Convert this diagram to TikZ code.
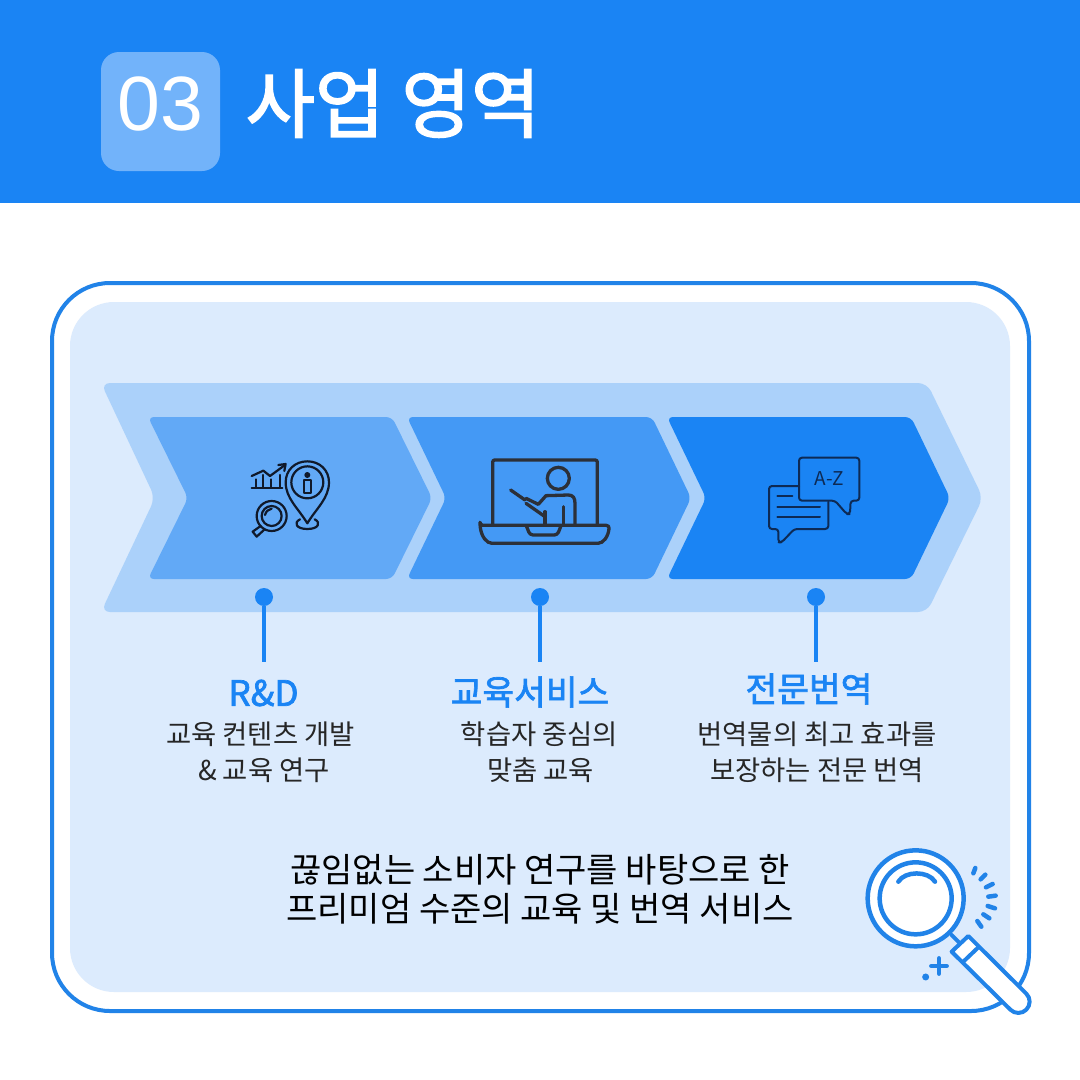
\documentclass[tikz,border=0pt]{standalone}
\usepackage{fontspec}
\setmainfont{Noto Sans CJK KR}
\newfontfamily\medfont[FakeBold=2]{Noto Sans CJK KR}
\newfontfamily\numfont{Liberation Sans}
\usetikzlibrary{calc}
\definecolor{headblue}{HTML}{1A84F4}
\definecolor{badgeblue}{HTML}{72B3FA}
\definecolor{lineblue}{HTML}{2183E8}
\definecolor{paleblue}{HTML}{DCEBFD}
\definecolor{bandblue}{HTML}{ABD1FA}
\definecolor{chevone}{HTML}{62A9F6}
\definecolor{chevtwo}{HTML}{4499F5}
\definecolor{iconone}{HTML}{10192A}
\definecolor{icontwo}{HTML}{2C3038}
\definecolor{iconthree}{HTML}{0D2A55}
\tikzset{
  chev/.style={rounded corners=6pt},
  dotnode/.style={circle,fill=headblue,minimum size=18pt,inner sep=0pt},
  stem/.style={draw=headblue,line width=3.5pt},
  headtext/.style={text=headblue,font=\fontsize{34.5}{34.5}\medfont,inner sep=0pt},
  bodytext/.style={text=black!85,font=\fontsize{27.4}{27.4}\selectfont,inner sep=0pt},
  closetext/.style={text=black,font=\fontsize{34}{34}\selectfont,inner sep=0pt},
  lens/.style={draw=lineblue,line width=4.5pt,line cap=round,line join=round},
}
\begin{document}
\begin{tikzpicture}[x=1pt,y=-1pt]
\useasboundingbox (0,0) rectangle (1080,1080);
\fill[white] (0,0) rectangle (1080,1080);

% header
\fill[headblue] (0,0) rectangle (1080,203);
\fill[badgeblue,rounded corners=18pt] (101,52) rectangle (220,171);
\node[text=white,font=\fontsize{77}{77}\numfont,inner sep=0pt] (num) at (160.5,104) {03};
\node[text=white,font=\fontsize{75.5}{75.5}\medfont,inner sep=0pt] (title) at (393,103.5) {사업 영역};

% card
\draw[draw=lineblue,line width=4pt,fill=white,rounded corners=58pt] (52,283) rectangle (1029,1011);
\fill[paleblue,rounded corners=44pt] (70,302) rectangle (1010,992);

% chevrons
\fill[bandblue,rounded corners=9pt] (101,383) -- (927,383) -- (983,498) -- (927,612) -- (101,612) -- (155,498) -- cycle;
\fill[chevone,chev] (148,417) -- (392,417) -- (432,498) -- (392,579) -- (148,579) -- (188,498) -- cycle;
\fill[chevtwo,chev] (407,417) -- (652,417) -- (691,498) -- (652,579) -- (407,579) -- (446,498) -- cycle;
\fill[headblue,chev] (667,417) -- (911,417) -- (950,498) -- (911,579) -- (667,579) -- (706,498) -- cycle;

% icon research
\begin{scope}[shift={(230,440)},x=0.3333pt,y=-0.3333pt,draw=iconone,line width=2.2pt,line cap=round,line join=round]
\draw (232,250) .. controls (205,205) and (167,175) .. (167,127) .. controls (167,90) and (195,64) .. (232,64) .. controls (269,64) and (297,90) .. (297,127) .. controls (297,175) and (259,205) .. (232,250) -- cycle;
\draw (232,127) circle (16pt);
\fill[iconone] (232,105) circle (3pt);
\draw (222,158) -- (222,120) -- (242,120) -- (242,158) -- cycle;
\draw (210,238) .. controls (190,248) and (198,267) .. (232,267) .. controls (266,267) and (274,248) .. (254,238);
\draw (65,143) -- (157,143);
\draw (78,143) -- (78,118);
\draw (100,143) -- (100,105);
\draw (122,143) -- (122,118);
\draw (150,143) -- (150,105);
\draw (65,108) -- (100,92) -- (120,108) -- (165,75);
\draw (145,75) -- (167,72) -- (163,93);
\draw (125,228) circle (15pt);
\draw (125,228) circle (10pt);
\draw (105,225) .. controls (108,214) and (115,208) .. (125,206);
\draw (92,258) -- (68,275) -- (80,290) -- (104,268);
\end{scope}

% icon teaching
\begin{scope}[shift={(470,445)},x=0.3333pt,y=-0.3333pt,draw=icontwo,line width=3.3pt,line cap=round,line join=round]
\draw[rounded corners=2pt] (68,238) -- (68,45) -- (382,45) -- (382,238);
\draw[rounded corners=3pt] (30,241) -- (418,241) .. controls (415,275) and (400,295) .. (375,295) -- (75,295) .. controls (50,295) and (35,275) .. (30,241) -- cycle;
\draw[rounded corners=3pt] (170,245) -- (180,270) -- (262,270) -- (272,245);
\draw (265,100) circle (11pt);
\draw (122,135) -- (165,165);
\draw (168,160) -- (205,178) -- (228,152) -- (295,150) .. controls (310,150) and (315,160) .. (315,175) -- (315,238);
\draw (168,175) -- (225,215);
\draw (225,200) -- (225,238);
\draw (280,185) -- (280,238);
\end{scope}

% icon translation
\begin{scope}[shift={(755,445)},x=0.3333pt,y=-0.3333pt,draw=iconthree,line width=2pt,line cap=round,line join=round]
\draw[rounded corners=3pt] (132,38) -- (313,38) -- (313,167) -- (287,167) -- (285,207) -- (275,207) -- (240,167) -- (132,167) -- cycle;
\draw[rounded corners=3pt] (132,123) -- (42,123) -- (42,252) -- (70,252) -- (70,292) -- (80,292) -- (118,252) -- (220,252) -- (220,170);
\draw (67,154) -- (112,154);
\draw (67,185) -- (195,185);
\draw (67,216) -- (195,216);
\node[text=iconthree,font=\fontsize{19}{19}\selectfont,inner sep=0pt] (az) at (223,100) {A-Z};
\end{scope}

% connectors
\node[dotnode] (dotrnd) at (264,597) {};
\node[dotnode] (dotedu) at (540,597) {};
\node[dotnode] (dottra) at (816,597) {};
\coordinate (endrnd) at (264,662);
\coordinate (endedu) at (540,662);
\coordinate (endtra) at (816,662);
\draw[stem] (dotrnd) -- (endrnd);
\draw[stem] (dotedu) -- (endedu);
\draw[stem] (dottra) -- (endtra);

% labels
\node[headtext,font=\fontsize{35}{35}\medfont] (headrnd) at (263.5,693) {R\&D};
\node[headtext] (headedu) at (530,692) {교육서비스};
\node[headtext] (headtra) at (809,689) {전문번역};
\node[bodytext] (rndone) at (260.5,734) {교육 컨텐츠 개발};
\node[bodytext] (rndtwo) at (264,770) {\& 교육 연구};
\node[bodytext] (eduone) at (539.5,734) {학습자 중심의};
\node[bodytext] (edutwo) at (540.5,770) {맞춤 교육};
\node[bodytext] (traone) at (817,734) {번역물의 최고 효과를};
\node[bodytext] (tratwo) at (817,770) {보장하는 전문 번역};
\node[closetext] (closeone) at (540,870) {끊임없는 소비자 연구를 바탕으로 한};
\node[closetext] (closetwo) at (540,909) {프리미엄 수준의 교육 및 번역 서비스};

% magnifier
\begin{scope}[shift={(850,830)},x=0.3333pt,y=-0.3333pt]
\draw[lens,line width=4pt] (305,315) -- (330,340);
\draw[lens,fill=white,line width=4pt] (355,318) -- (529,491) arc (45:-135:11.3pt) -- (305,365) -- cycle;
\draw[lens,line width=4pt] (385,352) -- (340,395);
\draw[lens,fill=white] (197,205) circle (48pt);
\draw[lens] (197,205) circle (36pt);
\draw[lens] (145,155) .. controls (165,122) and (235,122) .. (255,155);
\draw[lens] (376,114) -- (370,130);
\draw[lens] (406,134) -- (392,148);
\draw[lens] (428,162) -- (408,172);
\draw[lens] (437,197) -- (415,200);
\draw[lens] (435,235) -- (413,228);
\draw[lens] (418,265) -- (400,253);
\draw[lens] (394,290) -- (382,273);
\draw[lens] (267,385) -- (267,431);
\draw[lens] (244,408) -- (290,408);
\fill[lineblue] (227,441) circle (3.5pt);
\end{scope}
\end{tikzpicture}
\end{document}
